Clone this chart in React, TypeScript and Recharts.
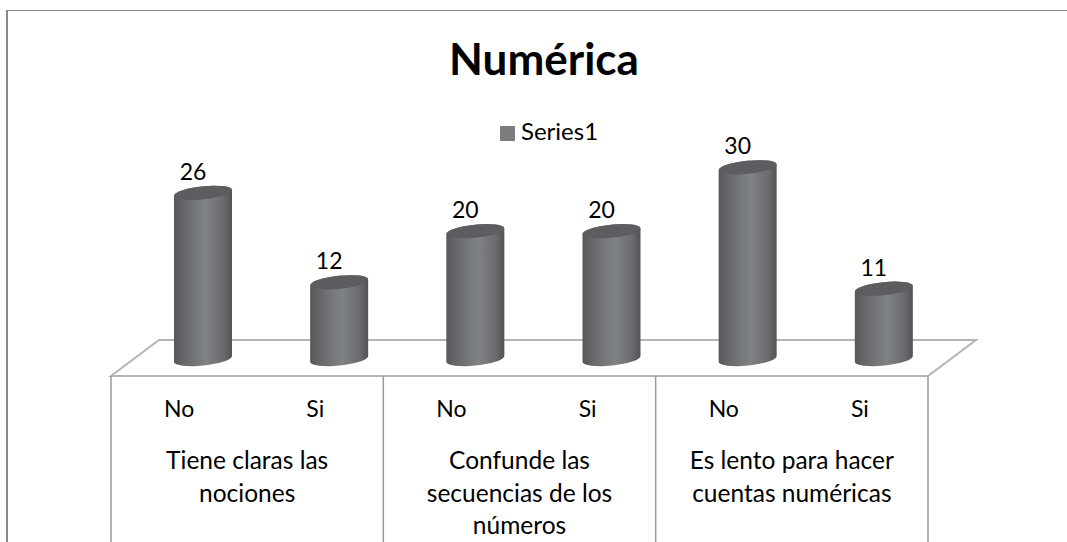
import { Bar, BarChart, LabelList, Legend, XAxis, YAxis, usePlotArea } from "recharts"

const answers = ["No", "Si", "No", "Si", "No", "Si"]
const values = [26, 12, 20, 20, 30, 11]
const groupLines = [
  ["Tiene claras las", "nociones"],
  ["Confunde las", "secuencias de los", "números"],
  ["Es lento para hacer", "cuentas numéricas"],
]

const data = answers.map((answer, i) => ({ id: i, answer, Series1: values[i] }))

const FONT = "Lato, Carlito, sans-serif"
// fake 3d: the bars and floor sit behind the axis plane
const DEPTH_X = 24
const DEPTH_Y = 17
const RY = 6.5
const TILT = -6

function Floor() {
  const plot = usePlotArea()
  if (!plot) return null
  const { x, y, width, height } = plot
  const bottom = y + height
  const pts = [
    [x, bottom],
    [x + DEPTH_X * 2, bottom - DEPTH_Y * 2 - 2],
    [x + width + DEPTH_X * 2, bottom - DEPTH_Y * 2 - 2],
    [x + width, bottom],
  ]
  return <polygon points={pts.map((p) => p.join(",")).join(" ")} fill="none" stroke="#b4b4b4" strokeWidth={2} />
}

function Cylinder(props: any) {
  const { x, y, width, height } = props
  const left = x + DEPTH_X
  const right = left + width
  const top = y - DEPTH_Y
  const base = y + height - DEPTH_Y
  const rx = width / 2
  const d = rx * Math.sin((-TILT * Math.PI) / 180)
  return (
    <g>
      <path
        d={`M${left},${top + d} L${left},${base + d} A${rx},${RY} ${TILT} 0 0 ${right},${base - d} L${right},${top - d} A${rx},${RY} ${TILT} 0 0 ${left},${top + d} Z`}
        fill="url(#cyl)"
      />
      <ellipse
        cx={left + rx}
        cy={top}
        rx={rx}
        ry={RY}
        fill="#5c5d60"
        transform={`rotate(${TILT} ${left + rx} ${top})`}
      />
    </g>
  )
}

function ValueLabel(props: any) {
  const { x, y, width, value } = props
  return (
    <text x={x + width / 2 + DEPTH_X - 10} y={y - DEPTH_Y - 13} textAnchor="middle" fontFamily={FONT} fontSize={23} fill="#000">
      {value}
    </text>
  )
}

function AxisTick(props: any) {
  const { x, y, payload } = props
  const i = payload.index
  const band = 136.17
  const group = i % 2 === 0 ? groupLines[i / 2] : null
  return (
    <g fontFamily={FONT} fill="#000" textAnchor="middle">
      <text x={x} y={y + 33} fontSize={23}>
        {answers[i]}
      </text>
      {group && group.map((line, k) => (
        <text key={k} x={x + band / 2} y={y + 85 + k * 32.5} fontSize={24.5}>
          {line}
        </text>
      ))}
      {group && <line x1={x - band / 2} x2={x - band / 2} y1={y - 8} y2={542} stroke="#9a9a9a" strokeWidth={1.5} />}
      {i === answers.length - 1 && <line x1={x + band / 2} x2={x + band / 2} y1={y - 8} y2={542} stroke="#9a9a9a" strokeWidth={1.5} />}
    </g>
  )
}

export default function App() {
  return (
    <div style={{ position: "absolute", left: 0, top: 0, width: 1067, height: 542, overflow: "hidden", background: "#fff" }}>
      <div style={{ position: "absolute", left: 6, top: 10, width: 1061, height: 532, borderLeft: "2px solid #8a8a8a", borderTop: "1px solid #8a8a8a" }} />
      <div style={{ position: "absolute", left: 0, top: 0 }}>
        <BarChart width={1067} height={542} data={data} barSize={58} margin={{ top: 120.4, right: 139, bottom: 0, left: 111 }}>
          <defs>
            <linearGradient id="cyl" x1="0" y1="0" x2="1" y2="0">
              <stop offset="0" stopColor="#55575a" />
              <stop offset="0.25" stopColor="#6c6e71" />
              <stop offset="0.55" stopColor="#808386" />
              <stop offset="0.85" stopColor="#696b6e" />
              <stop offset="1" stopColor="#515356" />
            </linearGradient>
          </defs>
          <text x={544} y={75} textAnchor="middle" fontFamily={FONT} fontSize={44} fontWeight={700} fill="#000">
            Numérica
          </text>
          <Floor />
          <XAxis
            dataKey="id"
            height={166}
            interval={0}
            tickLine={false}
            axisLine={false}
            tick={<AxisTick />}
          />
          <YAxis hide domain={[0, 40]} />
          <Legend
            layout="horizontal"
            align="center"
            verticalAlign="middle"
            iconType="square"
            iconSize={15}
            wrapperStyle={{ position: "absolute", left: 500, top: 116, width: 107, fontFamily: FONT, fontSize: 24, padding: 0 }}
            formatter={(v) => <span style={{ color: "#000", marginLeft: 2 }}>{v}</span>}
          />
          <Bar dataKey="Series1" fill="#7c7c80" shape={<Cylinder />} isAnimationActive={false}>
            <LabelList dataKey="Series1" content={<ValueLabel />} />
          </Bar>
        </BarChart>
      </div>
    </div>
  )
}
